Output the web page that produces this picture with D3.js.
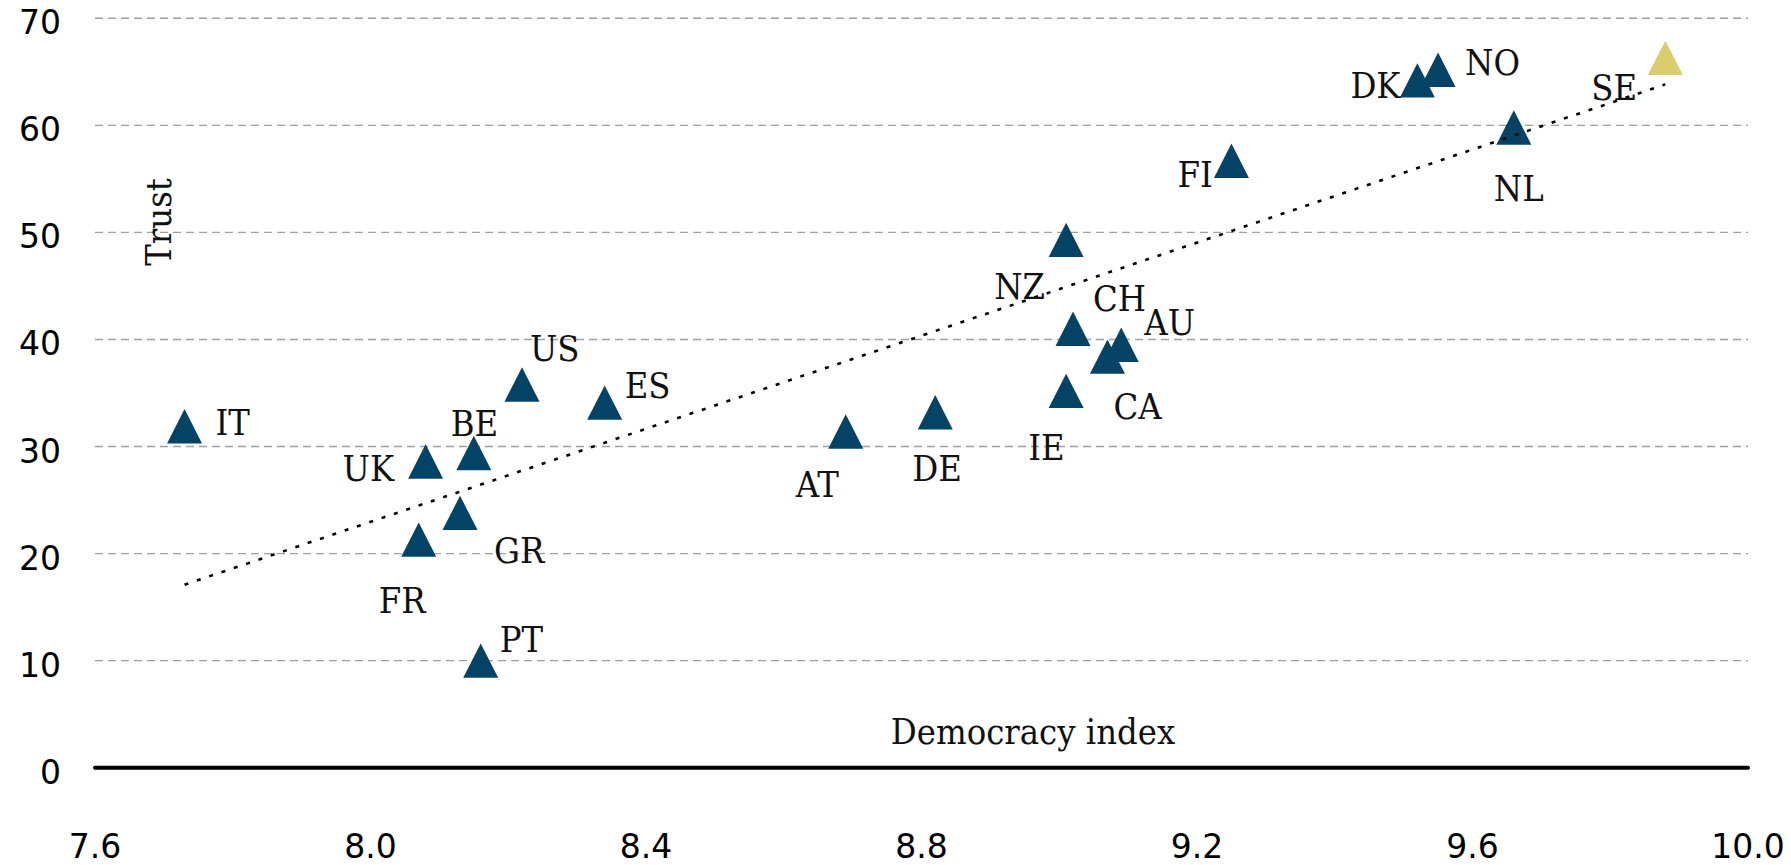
<!DOCTYPE html>
<html>
<head>
<meta charset="utf-8">
<script src="https://cdn.jsdelivr.net/npm/d3@7"></script>
<style>
  body { margin: 0; background: #fff; }
  .lbl { font-family: "DejaVu Serif Condensed", "DejaVu Serif", serif; font-stretch: condensed; font-size: 36px; fill: #111; }
  .tick { font-family: "DejaVu Sans", sans-serif; font-size: 33px; fill: #000; }
</style>
</head>
<body>
<div id="chart"></div>
<script>
var countries = ["IT","UK","BE","GR","FR","PT","US","ES","AT","DE","NZ","CH","AU","CA","IE","FI","NO","DK","NL","SE"];
var democracy = [7.73,8.08,8.15,8.13,8.07,8.16,8.22,8.34,8.69,8.82,9.01,9.02,9.09,9.07,9.01,9.25,9.55,9.52,9.66,9.88];
var trust = [31.9,28.6,29.4,23.8,21.3,10.0,35.8,34.1,31.4,33.2,49.3,41.0,39.5,38.4,35.2,56.7,65.2,64.2,59.8,66.3];
var xTicks = [7.6, 8.0, 8.4, 8.8, 9.2, 9.6, 10.0];
var yTicks = [0, 10, 20, 30, 40, 50, 60, 70];
var highlight = "SE";

// label offsets from the marker centre (px)
var labelDx = [31,-83,-23,34,-40,19,8,20,-50,-23,-72,20,23,6,-38,-54,27,-67,-20,-74];
var labelDy = [9,19,-17,50,73,-9,-23,-5,65,69,59,-18,-10,62,69,26,5,18,74,42];

var width = 1791, height = 865;

var svg = d3.select("#chart")
  .append("svg")
  .attr("width", width)
  .attr("height", height);

var x = d3.scaleLinear().domain([7.6, 10.0]).range([95, 1748]);
var y = d3.scaleLinear().domain([0, 70]).range([767.7, 18.3]);

// gridlines
svg.append("g")
  .selectAll("line")
  .data(yTicks.filter(function(d) { return d > 0; }))
  .enter()
  .append("line")
  .attr("x1", x(7.6))
  .attr("x2", x(10.0))
  .attr("y1", function(d) { return y(d); })
  .attr("y2", function(d) { return y(d); })
  .attr("stroke", "#a0a0a0")
  .attr("stroke-width", 1.4)
  .attr("stroke-dasharray", "8,5");

// y tick labels
svg.append("g")
  .selectAll("text")
  .data(yTicks)
  .enter()
  .append("text")
  .attr("class", "tick")
  .attr("x", 61)
  .attr("y", function(d) { return y(d) + 16; })
  .attr("text-anchor", "end")
  .text(function(d) { return d; });

// x tick labels
svg.append("g")
  .selectAll("text")
  .data(xTicks)
  .enter()
  .append("text")
  .attr("class", "tick")
  .attr("x", function(d) { return x(d); })
  .attr("y", 858)
  .attr("text-anchor", "middle")
  .text(function(d) { return d3.format(".1f")(d); });

// zero axis
svg.append("line")
  .attr("x1", x(7.6))
  .attr("x2", x(10.0))
  .attr("y1", y(0))
  .attr("y2", y(0))
  .attr("stroke", "#000")
  .attr("stroke-width", 4)
  .attr("stroke-linecap", "round");

// markers
var data = countries.map(function(c, i) {
  return {code: c, dem: democracy[i], trust: trust[i], dx: labelDx[i], dy: labelDy[i]};
});

var tw = 17.5, th = 17.2;
svg.append("g")
  .selectAll("path")
  .data(data)
  .enter()
  .append("path")
  .attr("d", function(d) {
    var cx = x(d.dem), cy = y(d.trust);
    return "M" + cx + "," + (cy - th) + "L" + (cx + tw) + "," + (cy + th) + "L" + (cx - tw) + "," + (cy + th) + "Z";
  })
  .attr("fill", function(d) { return d.code === highlight ? "#dccd6c" : "#034466"; });

// linear trend (least squares)
var mx = d3.mean(democracy), my = d3.mean(trust);
var sxy = d3.sum(democracy, function(d, i) { return (d - mx) * (trust[i] - my); });
var sxx = d3.sum(democracy, function(d) { return (d - mx) * (d - mx); });
var slope = sxy / sxx, icpt = my - slope * mx;
var ext = d3.extent(democracy);

svg.append("line")
  .attr("x1", x(ext[0]))
  .attr("y1", y(icpt + slope * ext[0]))
  .attr("x2", x(ext[1]))
  .attr("y2", y(icpt + slope * ext[1]))
  .attr("stroke", "#000")
  .attr("stroke-width", 2.6)
  .attr("stroke-dasharray", "4,9");

// country labels
svg.append("g")
  .selectAll("text")
  .data(data)
  .enter()
  .append("text")
  .attr("class", "lbl")
  .attr("x", function(d) { return x(d.dem) + d.dx; })
  .attr("y", function(d) { return y(d.trust) + d.dy; })
  .text(function(d) { return d.code; });

// axis titles
svg.append("text")
  .attr("class", "lbl")
  .attr("x", 1033)
  .attr("y", 744)
  .attr("text-anchor", "middle")
  .text("Democracy index");

svg.append("text")
  .attr("class", "lbl")
  .attr("transform", "translate(171,222) rotate(-90)")
  .attr("text-anchor", "middle")
  .text("Trust");
</script>
</body>
</html>
